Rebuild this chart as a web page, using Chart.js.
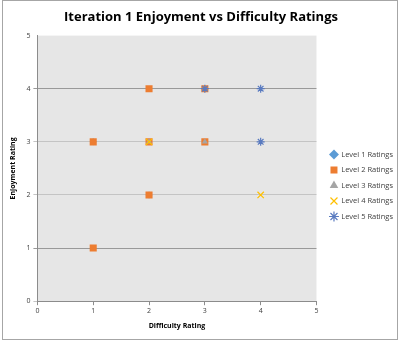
<!DOCTYPE html>
<html>
<head>
<meta charset="utf-8">
<script src="https://cdn.jsdelivr.net/npm/chart.js@4/dist/chart.umd.min.js"></script>
<style>
  html, body { margin: 0; padding: 0; background: #fff; }
  #wrap { width: 400px; height: 341px; }
</style>
</head>
<body>
<div id="wrap"><canvas id="chart" width="400" height="341"></canvas></div>
<script>
/* ---- ratings per level (difficulty = x, enjoyment = y) ---- */
const seriesNames = ['Level 1 Ratings', 'Level 2 Ratings', 'Level 3 Ratings', 'Level 4 Ratings', 'Level 5 Ratings'];

const level1X = [1, 2, 3];
const level1Y = [3, 2, 4];
const level2X = [1, 1, 2, 2, 2, 3, 3];
const level2Y = [3, 1, 4, 3, 2, 4, 3];
const level3X = [2, 3];
const level3Y = [3, 3];
const level4X = [2, 4];
const level4Y = [3, 2];
const level5X = [3, 4, 4];
const level5Y = [4, 4, 3];

const axisTicks = [0, 1, 2, 3, 4, 5];

const FONT = "'Open Sans', 'Noto Sans', sans-serif";
const TEXT = '#404040';

function pts(xs, ys) {
    return xs.map((x, i) => ({ x, y: ys[i] }));
}

const styles = [
    { color: '#5B9BD5', shape: 'rectRot', r: 3.5 },
    { color: '#ED7D31', shape: 'rect', r: 5 },
    { color: '#A5A5A5', shape: 'triangle', r: 3.5 },
    { color: '#FFC000', shape: 'crossRot', r: 4.5 },
    { color: '#5A7BC0', shape: 'star', r: 4 }
];

const seriesData = [
    pts(level1X, level1Y),
    pts(level2X, level2Y),
    pts(level3X, level3Y),
    pts(level4X, level4Y),
    pts(level5X, level5Y)
];

// later levels are painted over earlier ones
const datasets = seriesNames.map((name, i) => ({
    label: name,
    data: seriesData[i],
    order: seriesNames.length - i,
    pointStyle: styles[i].shape,
    pointRadius: styles[i].r,
    pointHoverRadius: styles[i].r,
    backgroundColor: styles[i].color,
    borderColor: styles[i].color,
    borderWidth: (styles[i].shape === 'crossRot' || styles[i].shape === 'star') ? 1.2 : 0,
    showLine: false
}));

// grey plot area plus the thin frame around the whole chart
const chartFrame = {
    id: 'chartFrame',
    afterLayout(chart) {
        // sit the legend a bit lower and further from the plot
        const lg = chart.legend;
        lg.left += 6; lg.right += 6;
        lg.top += 15; lg.bottom += 15;
    },
    beforeDraw(chart) {
        const { ctx, chartArea: a } = chart;
        ctx.save();
        ctx.fillStyle = '#e6e6e6';
        ctx.fillRect(a.left, a.top, a.right - a.left, a.bottom - a.top);
        ctx.restore();
    },
    afterDraw(chart) {
        const ctx = chart.ctx;
        ctx.save();
        ctx.strokeStyle = '#a6a6a6';
        ctx.lineWidth = 1;
        ctx.strokeRect(2.5, 0.5, 395, 339);
        ctx.restore();
    }
};

const tickFont = { family: FONT, size: 7 };
const titleFont = { family: FONT, size: 7, weight: 'bold' };

new Chart(document.getElementById('chart'), {
    type: 'scatter',
    data: { datasets },
    options: {
        responsive: false,
        animation: false,
        devicePixelRatio: 1,
        layout: { padding: { left: 5, right: 3, top: 7, bottom: 7 } },
        plugins: {
            title: {
                display: true,
                text: 'Iteration 1 Enjoyment vs Difficulty Ratings',
                color: '#000',
                font: { family: FONT, size: 13, weight: 'bold' },
                padding: { top: 2, bottom: 11 }
            },
            legend: {
                position: 'right',
                labels: {
                    usePointStyle: true,
                    boxWidth: 7,
                    boxHeight: 7,
                    padding: 8,
                    color: TEXT,
                    font: { family: FONT, size: 7.5 },
                    sort: (a, b) => a.datasetIndex - b.datasetIndex
                }
            },
            tooltip: { enabled: false }
        },
        scales: {
            x: {
                type: 'linear',
                min: 0,
                max: 5,
                afterBuildTicks: s => { s.ticks = axisTicks.map(v => ({ value: v })); },
                ticks: { color: TEXT, font: tickFont, padding: 2 },
                grid: { drawOnChartArea: false, drawTicks: true, tickLength: 4, color: '#8c8c8c' },
                border: { color: '#8c8c8c' },
                title: { display: true, text: 'Difficulty Rating', color: '#000', font: titleFont, padding: { top: 4 } }
            },
            y: {
                type: 'linear',
                min: 0,
                max: 5,
                afterBuildTicks: s => { s.ticks = axisTicks.map(v => ({ value: v })); },
                ticks: { color: TEXT, font: tickFont, padding: 3 },
                grid: {
                    tickLength: 4,
                    color: ctx => {
                        const v = ctx.tick ? ctx.tick.value : 0;
                        if (v === 5) return 'rgba(0,0,0,0)';
                        if (v === 1 || v === 4) return '#999999';
                        return '#c4c4c4';
                    }
                },
                border: { color: '#8c8c8c' },
                title: { display: true, text: 'Enjoyment Rating', color: '#000', font: titleFont, padding: { bottom: 6 } }
            }
        }
    },
    plugins: [chartFrame]
});
</script>
</body>
</html>
